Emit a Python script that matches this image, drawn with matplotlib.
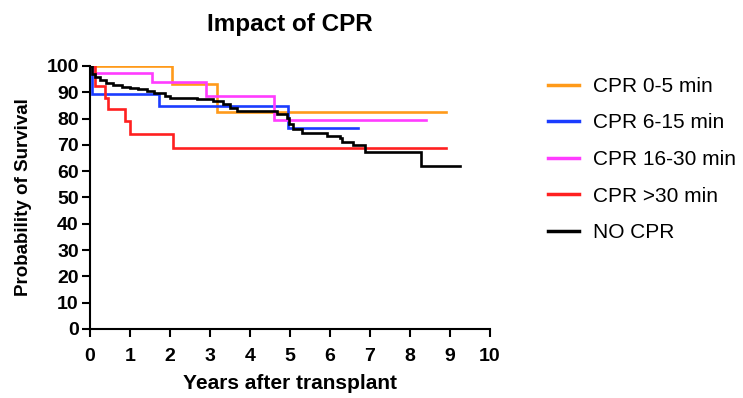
import matplotlib
matplotlib.use("Agg")
import matplotlib.pyplot as plt
from matplotlib.lines import Line2D

plt.rcParams['font.family'] = ['Liberation Sans', 'DejaVu Sans']

# Kaplan-Meier step data (time in years, survival in %)
t_cpr_0_5 = [0, 2.05, 3.17, 8.9]
s_cpr_0_5 = [100, 93.1, 82.4, 82.4]

t_cpr_6_15 = [0, 0.05, 1.73, 4.95, 6.7]
s_cpr_6_15 = [100, 89.5, 84.7, 76.6, 76.6]

t_cpr_16_30 = [0, 0.1, 1.55, 2.9, 4.6, 8.4]
s_cpr_16_30 = [100, 97.3, 93.9, 88.5, 79.6, 79.6]

t_cpr_30 = [0, 0.12, 0.37, 0.45, 0.88, 1.0, 2.08, 8.9]
s_cpr_30 = [100, 92.3, 88.0, 83.5, 79.0, 74.0, 69.0, 69.0]

t_no_cpr = [0, 0.05, 0.12, 0.25, 0.4, 0.58, 0.8, 1.0, 1.2, 1.42, 1.6, 1.87,
            2.0, 2.67, 3.08, 3.33, 3.5, 3.67, 4.67, 4.92, 4.97, 5.08, 5.3,
            5.92, 6.25, 6.3, 6.58, 6.87, 8.27, 9.25]
s_no_cpr = [100, 97, 95.8, 94.5, 93.4, 92.6, 92.1, 91.6, 91.1, 90.6, 89.6,
            88.6, 88.0, 87.4, 86.7, 85.4, 84.2, 82.9, 81.6, 80.3, 77.8, 75.9,
            74.7, 73.3, 72.7, 71.1, 69.9, 67.3, 61.8, 61.8]

labels = ["CPR 0-5 min", "CPR 6-15 min", "CPR 16-30 min", "CPR >30 min", "NO CPR"]
colors = ["#FF9A1A", "#1A3CFF", "#FF3CFF", "#FF2020", "#000000"]

series = [(t_cpr_0_5, s_cpr_0_5), (t_cpr_6_15, s_cpr_6_15),
          (t_cpr_16_30, s_cpr_16_30), (t_cpr_30, s_cpr_30),
          (t_no_cpr, s_no_cpr)]

fig = plt.figure(figsize=(7.43, 3.98), dpi=100)
ax = fig.add_axes([0.1211, 0.1734, 0.5384, 0.6608])

# Draw in order so black sits on top
for (t, s), c in zip(series, colors):
    ax.step(t, s, where='post', color=c, lw=1.9, solid_joinstyle='miter')

ax.set_xlim(0, 10)
ax.set_ylim(0, 100)
ax.set_xticks(range(0, 11))
ax.set_yticks(range(0, 101, 10))
for side in ['top', 'right']:
    ax.spines[side].set_visible(False)
for side in ['left', 'bottom']:
    ax.spines[side].set_linewidth(1.5)
ax.tick_params(direction='out', length=6, width=1.5, labelsize=14)
ax.tick_params(axis='x', pad=8)
ax.tick_params(axis='y', pad=2)
for lab in ax.get_xticklabels() + ax.get_yticklabels():
    lab.set_fontweight('bold')

ax.set_xlabel("Years after transplant", fontsize=15, fontweight='bold')
ax.set_ylabel("Probability of Survival", fontsize=13.5, fontweight='bold')
ax.xaxis.set_label_coords(0.5, -0.172)
ax.yaxis.set_label_coords(-0.146, 0.5)

fig.text(290 / 743, 1 - 25 / 398, "Impact of CPR", fontsize=17.5,
         fontweight='bold', ha='center', va='center')

handles = [Line2D([0], [0], color=c, lw=2.5) for c in colors]
fig.legend(handles, labels, loc='upper left', bbox_to_anchor=(548 / 743, 1 - 77 / 398),
           frameon=False, fontsize=15, handlelength=1.5, handletextpad=0.65,
           labelspacing=0.84, borderpad=0, borderaxespad=0)

fig.savefig("out.png", dpi=100)
